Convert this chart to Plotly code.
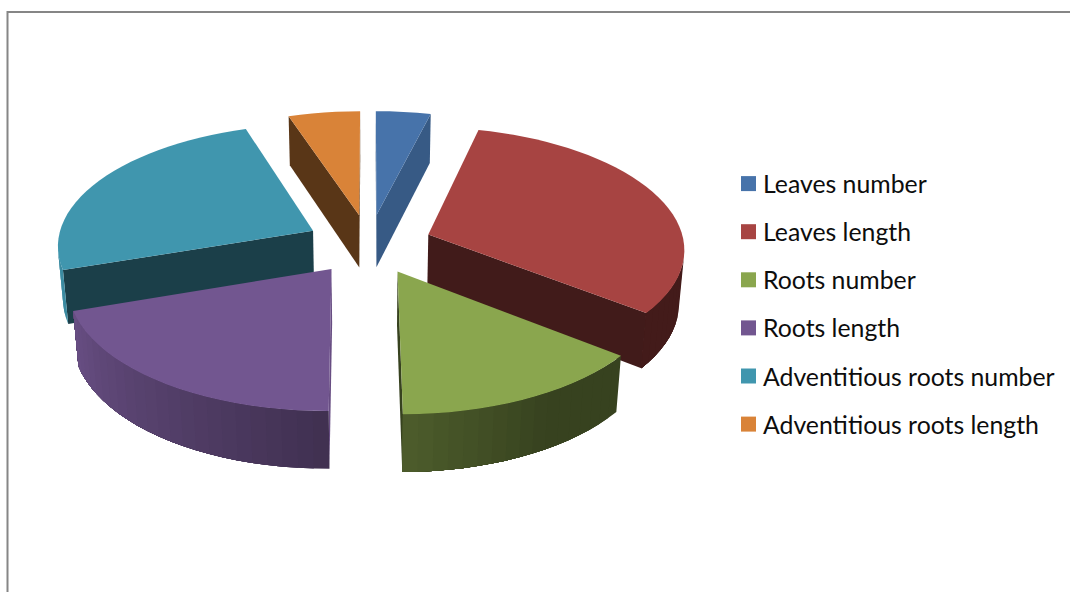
import numpy as np
import plotly.graph_objects as go

# Share of each trait in percent, clockwise from twelve o'clock
categories = ["Leaves number", "Leaves length", "Roots number", "Roots length",
              "Adventitious roots number", "Adventitious roots length"]
values = [3.9, 31.7, 14.3, 19.9, 25.1, 5.1]
colors = ["#4773AA", "#A74442", "#8AA64E", "#725690", "#4096AE", "#D98338"]
# Brightness of the flat cut faces of each wedge
cut_shade = [0.78, 0.39, 0.40, 0.90, 0.42, 0.41]

# Projection of the pie onto the page
CX, CY = 369.0, 244.0
SX, SY = 256.0, 121.0
PERSP, DEPTH_PERSP = 0.108, 0.017
THICK = 54.0
EXPLODE = 0.247

# Legend block
LEGEND_X, LEGEND_TEXT_X, LEGEND_TOP, LEGEND_STEP = 748.5, 761.0, 183.6, 48.1


def project(px, py, depth):
    w = 1 + PERSP * py + DEPTH_PERSP * depth
    return CX + SX * px / w, CY + (-SY * py + THICK * depth) / w


def shade(hex_color, f):
    r, g, b = (int(hex_color[i:i + 2], 16) for i in (1, 3, 5))
    return f"rgb({r * f:.0f},{g * f:.0f},{b * f:.0f})"


def rim_shade(deg):
    # Outer wall lightens from the front towards the left
    return float(np.interp(deg, [0, 125, 150, 180, 255, 280, 360],
                           [0.4, 0.4, 0.4, 0.56, 0.93, 1.0, 1.0]))


def polygon(points, color):
    xs, ys = zip(*points)
    return go.Scatter(x=xs, y=ys, mode="none", fill="toself", fillcolor=color,
                      hoverinfo="skip", showlegend=False)


def signed_area(points):
    n = len(points)
    return sum(points[i][0] * points[(i + 1) % n][1] - points[(i + 1) % n][0] * points[i][1]
               for i in range(n))


def strip(plan_points):
    # Vertical band hanging below a run of plan points
    upper = [project(px, py, 0) for px, py in plan_points]
    lower = [project(px, py, 1) for px, py in reversed(plan_points)]
    return upper + lower


edges = np.concatenate([[0], np.cumsum(values)]) / sum(values) * 360
wedges = [(edges[i], edges[i + 1], colors[i], cut_shade[i]) for i in range(len(values))]
# Paint the wedges from the back of the pie to the front
wedges.sort(key=lambda w: -np.cos(np.radians((w[0] + w[1]) / 2)))

fig = go.Figure()
for start, end, color, cut in wedges:
    mid = np.radians((start + end) / 2)
    ox, oy = EXPLODE * np.sin(mid), EXPLODE * np.cos(mid)
    steps = max(2, int((end - start) / 3))
    degs = np.linspace(start, end, steps + 1)
    plan = [(ox + np.sin(np.radians(d)), oy + np.cos(np.radians(d))) for d in degs]
    tip = (ox, oy)

    # Flat cut faces, drawn only when they face the viewer
    for pair in ([tip, plan[0]], [plan[-1], tip]):
        face = strip(pair)
        if signed_area(face) < 0:
            fig.add_trace(polygon(face, shade(color, cut)))

    # Curved outer wall: each band runs on to the end of the visible arc and
    # the next one paints over it, which leaves no gaps between bands
    facing = [j for j in range(steps) if signed_area(strip(plan[j:j + 2])) < 0]
    if facing:
        last = facing[-1]
        for j in facing:
            f = rim_shade((degs[j] + degs[j + 1]) / 2)
            fig.add_trace(polygon(strip(plan[j:last + 2]), shade(color, f)))

    fig.add_trace(polygon([project(px, py, 0) for px, py in [tip] + plan], color))

# Key on the right: one swatch and label per category
for i, (name, color) in enumerate(zip(categories, colors)):
    row_y = LEGEND_TOP + i * LEGEND_STEP
    fig.add_trace(go.Scatter(
        x=[LEGEND_X], y=[row_y], mode="markers",
        marker=dict(symbol="square", size=15, color=color),
        name=name, showlegend=False, hoverinfo="name"))
    fig.add_annotation(
        x=LEGEND_TEXT_X, y=row_y, text=name, showarrow=False,
        xanchor="left", yanchor="middle", align="left",
        font=dict(family="Lato", size=24.8, color="#0d0d0d"))

# Chart frame, open on the right and at the bottom
fig.add_shape(type="path", path="M 7.5 592 L 7.5 12 L 1070 12",
              line=dict(color="#868686", width=2))

fig.update_layout(
    width=1070, height=592, margin=dict(l=0, r=0, t=0, b=0),
    paper_bgcolor="white", plot_bgcolor="white",
    xaxis=dict(range=[0, 1070], visible=False, fixedrange=True),
    yaxis=dict(range=[592, 0], visible=False, fixedrange=True),
)
fig.write_html("out.html", config=dict(displayModeBar=False))
